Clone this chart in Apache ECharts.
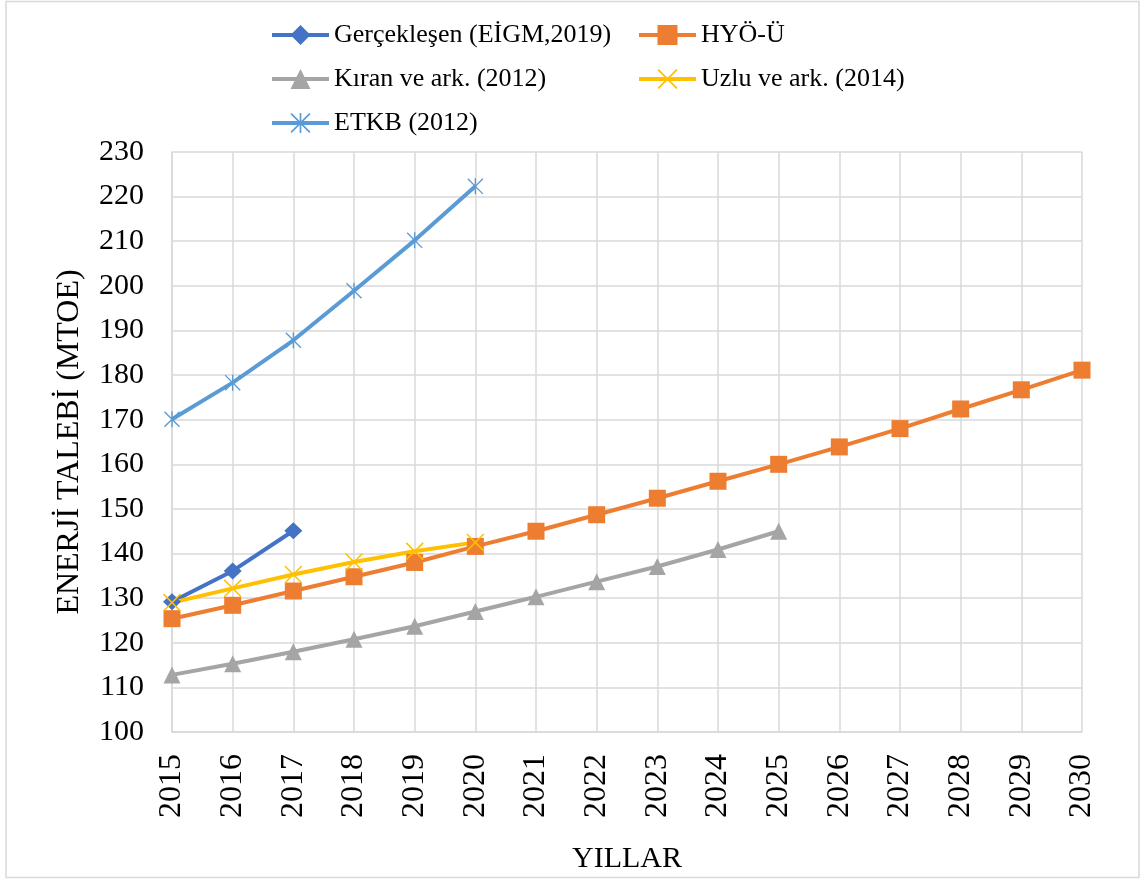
<!DOCTYPE html>
<html>
<head>
<meta charset="utf-8">
<title>Enerji talebi</title>
<script src="https://cdn.jsdelivr.net/npm/echarts@6/dist/echarts.min.js"></script>
<style>
  html, body { margin: 0; padding: 0; background: #fff; }
  #chart { width: 1141px; height: 879px; }
</style>
</head>
<body>
<div id="chart"></div>
<script>
// years on the x axis
const years = ['2015', '2016', '2017', '2018', '2019', '2020', '2021', '2022',
  '2023', '2024', '2025', '2026', '2027', '2028', '2029', '2030']

// series values (MTOE)
const gerceklesen = [129.2, 136.1, 145.1]
const hyoU = [125.4, 128.4, 131.6, 134.8, 138.0, 141.6, 145.0, 148.7,
  152.4, 156.2, 160.0, 163.9, 168.0, 172.4, 176.7, 181.1]
const kiran = [112.8, 115.3, 118.0, 120.8, 123.7, 127.0, 130.3, 133.7,
  137.1, 140.9, 145.0]
const uzlu = [129.0, 132.2, 135.3, 138.1, 140.5, 142.5]
const etkb = [170.1, 178.3, 187.8, 198.9, 210.2, 222.3]

const seriesNames = ['Gerçekleşen (EİGM,2019)', 'HYÖ-Ü', 'Kıran ve ark. (2012)',
  'Uzlu ve ark. (2014)', 'ETKB (2012)']

// excel style markers
const crossPath = 'path://M0,1.2L1.2,0L20,18.8L18.8,20Z M18.8,0L20,1.2L1.2,20L0,18.8Z'
const starPath = 'path://M0,1.2L1.2,0L20,18.8L18.8,20Z M18.8,0L20,1.2L1.2,20L0,18.8Z M9.15,0L10.85,0L10.85,20L9.15,20Z'

const serif = '"Liberation Serif", "Times New Roman", serif'
const gridColor = '#d9d9d9'

const makeLine = (name, data, color, symbol, size) => ({
  name,
  type: 'line',
  data,
  symbol,
  symbolSize: size,
  showAllSymbol: true,
  lineStyle: { color, width: 4 },
  itemStyle: { color },
  emphasis: { disabled: true }
})

const chart = echarts.init(document.getElementById('chart'))

const legendBase = {
  orient: 'vertical',
  top: 17,
  itemWidth: 57,
  itemHeight: 25,
  itemGap: 18,
  lineStyle: { width: 4 },
  textStyle: { fontFamily: serif, fontSize: 26, color: '#000' }
}

chart.setOption({
  animation: false,
  graphic: [{
    type: 'rect',
    shape: { x: 6, y: 1.5, width: 1133, height: 876 },
    style: { fill: 'none', stroke: gridColor, lineWidth: 1.5 },
    silent: true
  }],
  legend: [
    Object.assign({}, legendBase, {
      data: [seriesNames[0], seriesNames[2], seriesNames[4]],
      left: 265
    }),
    Object.assign({}, legendBase, {
      data: [seriesNames[1], seriesNames[3]],
      left: 632
    })
  ],
  grid: { left: 172, right: 59, top: 152, bottom: 146 },
  xAxis: {
    type: 'category',
    data: years,
    boundaryGap: false,
    name: 'YILLAR',
    nameLocation: 'middle',
    nameGap: 112,
    nameTextStyle: { fontFamily: serif, fontSize: 30, color: '#000' },
    axisLine: { lineStyle: { color: gridColor, width: 1.5 } },
    axisTick: { show: false },
    axisLabel: {
      rotate: 90,
      margin: 22,
      fontFamily: serif,
      fontSize: 32,
      color: '#000'
    },
    splitLine: { show: true, lineStyle: { color: gridColor, width: 1.5 } }
  },
  yAxis: {
    type: 'value',
    min: 100,
    max: 230,
    interval: 10,
    name: 'ENERJİ TALEBİ (MTOE)',
    nameLocation: 'middle',
    nameGap: 86,
    nameTextStyle: { fontFamily: serif, fontSize: 32, color: '#000' },
    axisLine: { show: true, lineStyle: { color: gridColor, width: 1.5 } },
    axisTick: { show: false },
    axisLabel: { margin: 28, fontFamily: serif, fontSize: 30, color: '#000' },
    splitLine: { lineStyle: { color: gridColor, width: 1.5 } }
  },
  series: [
    makeLine(seriesNames[0], gerceklesen, '#4472c4', 'diamond', [18, 17]),
    makeLine(seriesNames[1], hyoU, '#ed7d31', 'rect', 17),
    makeLine(seriesNames[2], kiran, '#a5a5a5', 'triangle', 17),
    makeLine(seriesNames[3], uzlu, '#ffc000', crossPath, 18),
    makeLine(seriesNames[4], etkb, '#5b9bd5', starPath, 16)
  ]
})

window.addEventListener('resize', () => chart.resize())
</script>
</body>
</html>
